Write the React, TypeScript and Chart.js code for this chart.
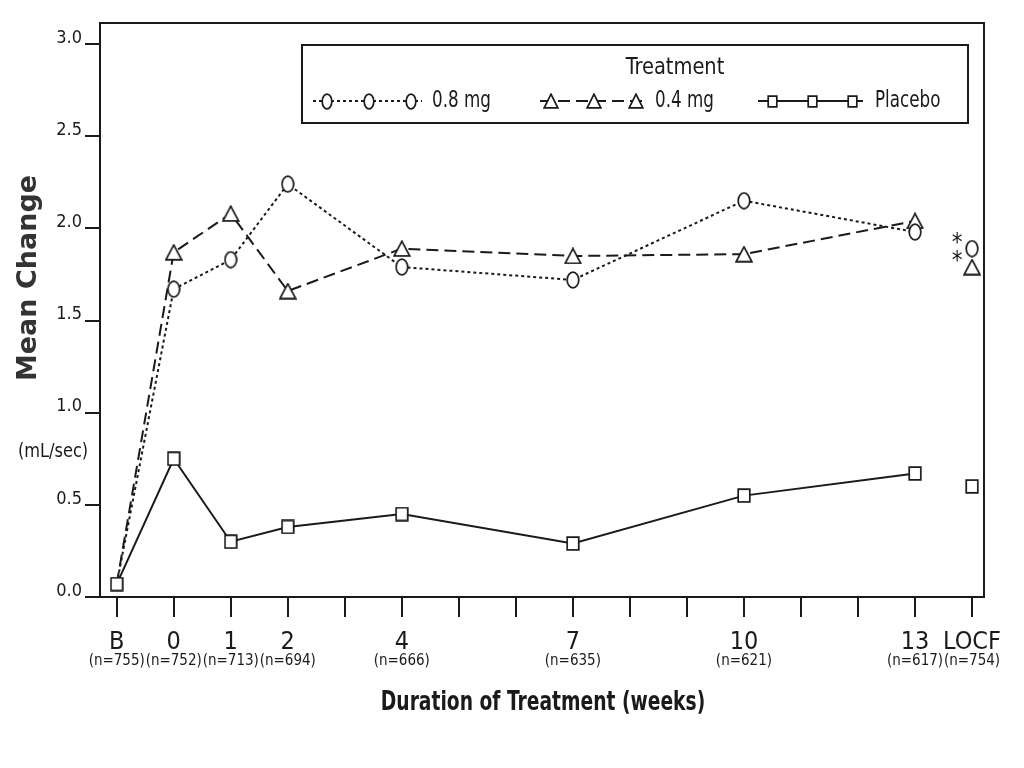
import React, { useEffect, useRef } from 'react';
import { Chart, registerables } from 'chart.js';

Chart.register(...registerables);

// ---------------- data ----------------
const weeks = [-1, 0, 1, 2, 4, 7, 10, 13];
const weekLabels = ['B', '0', '1', '2', '4', '7', '10', '13'];
const nLabels = ['(n=755)', '(n=752)', '(n=713)', '(n=694)', '(n=666)', '(n=635)', '(n=621)', '(n=617)'];
const locfWeek = 14;
const locfLabel = 'LOCF';
const locfN = '(n=754)';
const tickWeeks = [-1, 0, 1, 2, 3, 4, 5, 6, 7, 8, 9, 10, 11, 12, 13, 14];
const yTicks = [0, 0.5, 1.0, 1.5, 2.0, 2.5, 3.0];

const seriesNames = ['0.8 mg', '0.4 mg', 'Placebo'];
const dose08 = [0.07, 1.67, 1.83, 2.24, 1.79, 1.72, 2.15, 1.98];
const dose04 = [0.07, 1.87, 2.08, 1.66, 1.89, 1.85, 1.86, 2.04];
const placebo = [0.07, 0.75, 0.30, 0.38, 0.45, 0.29, 0.55, 0.67];
const locf08 = [1.89];
const locf04 = [1.79];
const locfPlacebo = [0.60];
const significant = ['0.8 mg', '0.4 mg'];

const legendTitle = 'Treatment';
const xTitle = 'Duration of Treatment (weeks)';
const yTitle = 'Mean Change';
const yUnit = '(mL/sec)';

// ---------------- styles ----------------
const INK = '#1a1a1a';
const NARROW = "'Liberation Sans Narrow', 'DejaVu Sans Condensed', 'Arial Narrow', sans-serif";

function makeMarker(kind: string, w: number, h: number): HTMLCanvasElement {
  const c = document.createElement('canvas');
  c.width = w;
  c.height = h;
  const ctx = c.getContext('2d')!;
  ctx.fillStyle = '#ffffff';
  ctx.strokeStyle = INK;
  ctx.lineWidth = 1.7;
  ctx.beginPath();
  if (kind === 'circle') {
    ctx.ellipse(w / 2, h / 2, w / 2 - 1.2, h / 2 - 1.2, 0, 0, Math.PI * 2);
  } else if (kind === 'triangle') {
    ctx.moveTo(w / 2, 1.2);
    ctx.lineTo(w - 1.2, h - 1.2);
    ctx.lineTo(1.2, h - 1.2);
    ctx.closePath();
  } else {
    ctx.rect(1.2, 1.2, w - 2.4, h - 2.4);
  }
  ctx.fill();
  ctx.stroke();
  return c;
}

function drawText(
  ctx: CanvasRenderingContext2D,
  text: string,
  x: number,
  y: number,
  font: string,
  sx: number,
  align: CanvasTextAlign
) {
  ctx.save();
  ctx.translate(x, y);
  ctx.scale(sx, 1);
  ctx.font = font;
  ctx.textAlign = align;
  ctx.textBaseline = 'middle';
  ctx.fillText(text, 0, 0);
  ctx.restore();
}

const App: React.FC = () => {
  const ref = useRef<HTMLCanvasElement | null>(null);

  useEffect(() => {
    if (!ref.current) return;
    const circ = makeMarker('circle', 14, 18);
    const tri = makeMarker('triangle', 18, 17);
    const sq = makeMarker('square', 14, 15);
    const lCirc = makeMarker('circle', 12, 17);
    const lTri = makeMarker('triangle', 16, 16);
    const lSq = makeMarker('square', 11, 13);

    const styles: Record<string, any> = {
      '0.8 mg': { dash: [3, 3], marker: circ, legendMarker: lCirc },
      '0.4 mg': { dash: [12, 6], marker: tri, legendMarker: lTri },
      Placebo: { dash: [], marker: sq, legendMarker: lSq },
    };

    const lineSet = (name: string, values: number[], hideFirst: boolean) => ({
      label: name,
      data: weeks.map((w, i) => ({ x: w, y: values[i] })),
      borderColor: INK,
      borderWidth: 2,
      borderDash: styles[name].dash,
      pointStyle: styles[name].marker,
      pointRadius: weeks.map((_, i) => (hideFirst && i === 0 ? 0 : 8)),
      fill: false,
      tension: 0,
    });
    const locfSet = (name: string, values: number[]) => ({
      label: name + ' LOCF',
      data: values.map((v) => ({ x: locfWeek, y: v })),
      showLine: false,
      borderColor: INK,
      pointStyle: styles[name].marker,
      pointRadius: 8,
    });

    const labelMap: Record<string, string> = {};
    const nMap: Record<string, string> = {};
    weeks.forEach((w, i) => {
      labelMap[String(w)] = weekLabels[i];
      nMap[String(w)] = nLabels[i];
    });
    labelMap[String(locfWeek)] = locfLabel;
    nMap[String(locfWeek)] = locfN;

    const xMin = -1.293;
    const xMax = 14.21;

    const decor = {
      id: 'decor',
      afterDraw(chart: any) {
        const { ctx, chartArea: a, scales } = chart;
        ctx.save();
        // frame
        ctx.strokeStyle = INK;
        ctx.lineWidth = 2;
        ctx.setLineDash([]);
        ctx.strokeRect(a.left, a.top, a.right - a.left, a.bottom - a.top);

        // y title
        ctx.save();
        ctx.fillStyle = '#333333';
        ctx.font = "bold 27px 'DejaVu Sans', sans-serif";
        ctx.translate(29, 278);
        ctx.rotate(-Math.PI / 2);
        ctx.textAlign = 'center';
        ctx.textBaseline = 'middle';
        ctx.fillText(yTitle, 0, 0);
        ctx.restore();

        ctx.fillStyle = INK;
        // unit
        drawText(ctx, yUnit, 53, 452, `20px ${NARROW}`, 0.9, 'center');

        // x title
        drawText(ctx, xTitle, 543, 703, `bold 27px ${NARROW}`, 0.77, 'center');

        // significance asterisks
        const xs = scales.x;
        const ys = scales.y;
        const locfMap: Record<string, number> = { '0.8 mg': locf08[0], '0.4 mg': locf04[0] };
        significant.forEach((n) => {
          const px = xs.getPixelForValue(locfWeek) - 15;
          const py = ys.getPixelForValue(locfMap[n]) - 5;
          drawText(ctx, '*', px, py, `24px ${NARROW}`, 1, 'center');
        });

        // legend
        const bx1 = 302, by1 = 45, bx2 = 968, by2 = 123;
        ctx.fillStyle = '#ffffff';
        ctx.fillRect(bx1, by1, bx2 - bx1, by2 - by1);
        ctx.strokeStyle = INK;
        ctx.lineWidth = 2;
        ctx.strokeRect(bx1, by1, bx2 - bx1, by2 - by1);
        ctx.fillStyle = INK;
        drawText(ctx, legendTitle, 675, 68, `23px ${NARROW}`, 0.94, 'center');

        const items = [
          { x0: 313, marks: [327, 369, 411], tx: 432 },
          { x0: 540, marks: [551, 594, 636], tx: 655 },
          { x0: 758, marks: [772, 812, 852], tx: 875 },
        ];
        const ly = 101;
        seriesNames.forEach((name, i) => {
          const it = items[i];
          const st = styles[name];
          ctx.strokeStyle = INK;
          ctx.lineWidth = 2;
          ctx.setLineDash(st.dash);
          ctx.beginPath();
          ctx.moveTo(it.x0, ly);
          ctx.lineTo(it.marks[2] + 11, ly);
          ctx.stroke();
          ctx.setLineDash([]);
          const m: HTMLCanvasElement = st.legendMarker;
          it.marks.forEach((mx) => {
            ctx.drawImage(m, Math.round(mx - m.width / 2), Math.round(ly - m.height / 2));
          });
          ctx.fillStyle = INK;
          drawText(ctx, name, it.tx, ly, `23px ${NARROW}`, 0.81, 'left');
        });
        ctx.restore();
      },
    };

    const chart = new Chart(ref.current, {
      type: 'line',
      data: {
        datasets: [
          lineSet('Placebo', placebo, false),
          locfSet('Placebo', locfPlacebo),
          lineSet('0.8 mg', dose08, true),
          locfSet('0.8 mg', locf08),
          lineSet('0.4 mg', dose04, true),
          locfSet('0.4 mg', locf04),
        ] as any,
      },
      options: {
        responsive: false,
        animation: false,
        layout: { autoPadding: false, padding: { top: 23, right: 40, bottom: 99, left: 0 } },
        plugins: { legend: { display: false }, tooltip: { enabled: false } },
        scales: {
          x: {
            type: 'linear',
            position: 'bottom',
            weight: 0,
            min: xMin,
            max: xMax,
            afterBuildTicks: (s: any) => {
              s.ticks = tickWeeks.map((v) => ({ value: v }));
            },
            afterFit: (s: any) => {
              s.height = 52;
            },
            grid: { drawOnChartArea: false, tickLength: 20, lineWidth: 2, color: INK },
            border: { color: INK, width: 2 },
            ticks: {
              autoSkip: false,
              maxRotation: 0,
              padding: 10,
              color: INK,
              font: { family: NARROW, size: 25 },
              callback: (v: any) => labelMap[String(v)] ?? '',
            },
          },
          xn: {
            type: 'linear',
            position: 'bottom',
            weight: 1,
            min: xMin,
            max: xMax,
            afterBuildTicks: (s: any) => {
              s.ticks = [...weeks, locfWeek].map((v) => ({ value: v }));
            },
            afterFit: (s: any) => {
              s.height = 20;
            },
            grid: { display: false, drawTicks: false },
            border: { display: false },
            ticks: {
              autoSkip: false,
              maxRotation: 0,
              padding: 3,
              color: INK,
              font: { family: NARROW, size: 15 },
              callback: (v: any) => nMap[String(v)] ?? '',
            },
          },
          y: {
            type: 'linear',
            min: 0,
            max: 3.114,
            afterBuildTicks: (s: any) => {
              s.ticks = yTicks.map((v) => ({ value: v }));
            },
            afterFit: (s: any) => {
              s.width = 100;
            },
            grid: { drawOnChartArea: false, tickLength: 15, lineWidth: 2, color: INK },
            border: { color: INK, width: 2 },
            ticks: {
              padding: 3,
              labelOffset: -6,
              color: INK,
              font: { family: NARROW, size: 18 },
              callback: (v: any) => Number(v).toFixed(1),
            },
          },
        },
      } as any,
      plugins: [decor],
    });
    return () => chart.destroy();
  }, []);

  return (
    <div style={{ position: 'fixed', left: 0, top: 0, width: 1024, height: 768, background: '#fff' }}>
      <canvas ref={ref} width={1024} height={768} style={{ display: 'block' }} />
    </div>
  );
};

export default App;
